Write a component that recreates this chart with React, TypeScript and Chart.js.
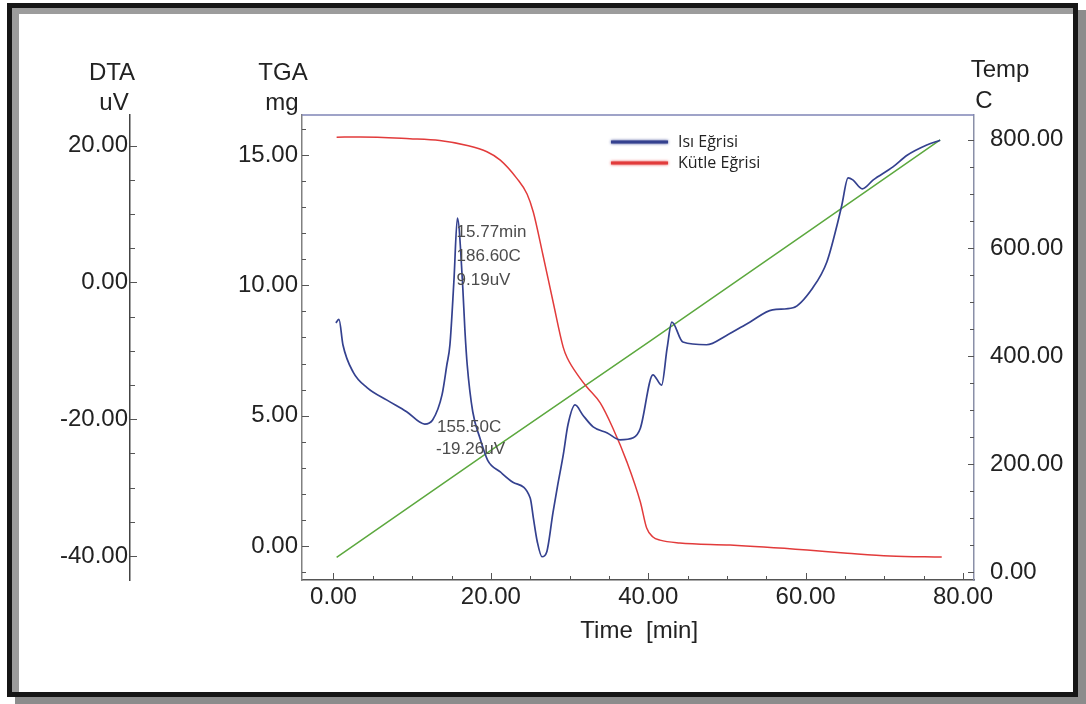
import React, { useEffect, useRef } from 'react';
import { Chart, registerables } from 'chart.js';

Chart.register(...registerables);

// ---- data ----
const dtaTime = [0.3, 0.7, 1.2, 2.5, 4.3, 6.8, 9.3, 11.6, 12.6, 13.8, 14.4, 14.8, 15.3, 15.75, 16.4, 16.7, 17.0, 17.7, 18.6, 19.6, 21.2, 22.8, 25.0, 25.4, 25.9, 26.5, 27.1, 27.9, 28.5, 29.2, 29.8, 30.7, 31.7, 33.0, 34.8, 36.4, 38.1, 39.0, 40.6, 41.7, 42.4, 43.0, 44.4, 47.4, 50.0, 52.9, 55.8, 58.4, 60.9, 62.7, 64.0, 64.6, 65.4, 66.0, 67.2, 68.6, 71.1, 72.9, 75.4, 77.1];
const dtaValues = [-5.9, -5.4, -9.1, -13.1, -15.4, -17.2, -18.9, -20.7, -20.1, -16.4, -12.1, -9.1, 0.1, 9.4, 0, -6.9, -12.1, -18.9, -22.7, -26.0, -27.7, -29.2, -31.5, -34.4, -37.9, -40.1, -39.4, -33.6, -29.6, -25.2, -20.8, -17.9, -19.4, -21.1, -22.0, -23.0, -22.7, -21.3, -13.5, -15.0, -9.6, -5.8, -8.7, -9.1, -7.7, -5.8, -4.0, -3.7, -0.8, 3.0, 8.4, 11.3, 15.3, 15.0, 13.7, 15.0, 16.9, 18.6, 20.1, 20.8];

const tgaTime = [0.4, 3.4, 9.7, 13.5, 17.0, 19.5, 21.2, 23.3, 24.6, 25.4, 26.6, 27.9, 29.2, 29.7, 31.3, 32.2, 33.9, 35.5, 37.3, 39.0, 39.8, 40.6, 41.5, 44.0, 50.4, 60.2, 65.3, 70.7, 77.3];
const tgaValues = [15.68, 15.69, 15.62, 15.55, 15.36, 15.12, 14.8, 14.1, 13.5, 12.8, 11.19, 9.38, 7.62, 7.22, 6.45, 6.1, 5.49, 4.53, 3.22, 1.69, 0.69, 0.35, 0.23, 0.12, 0.04, -0.15, -0.27, -0.38, -0.42];

const tempTime = [0.4, 20, 40, 60, 77.1];
const tempValues = [27, 225, 425, 627, 800];

const seriesNames = ['Isı Eğrisi', 'Kütle Eğrisi', 'Sıcaklık'];

// tick labels shown on each axis
const xTickLabels = [0, 20, 40, 60, 80];
const tgaTickLabels = [0, 5, 10, 15];
const dtaTickLabels = [-40, -20, 0, 20];
const tempTickLabels = [0, 200, 400, 600, 800];

const peakNotes = ['15.77min', '186.60C', '9.19uV'];
const minNotes = ['155.50C', '-19.26uV'];

// ---- styling ----
const FONT = "'Liberation Sans', Arial, Helvetica, sans-serif";
const BLUE = '#34418f';
const RED = '#e23b3b';
const GREEN = '#5ca83e';

const has = (arr: number[], v: number) => arr.some((a) => Math.abs(a - v) < 1e-6);
const fmt = (arr: number[]) => (v: any) => (has(arr, Number(v)) ? Number(v).toFixed(2) : '');

const pts = (xs: number[], ys: number[]) => xs.map((x, i) => ({ x, y: ys[i] }));

const decorPlugin = {
  id: 'decor',
  afterDraw(chart: any) {
    const { ctx, chartArea: ca, scales } = chart;
    const sx = scales.x;
    const sT = scales.yTGA;
    const sD = scales.yDTA;
    const sR = scales.yTemp;
    ctx.save();

    // top border of plot
    ctx.strokeStyle = '#7f84b6';
    ctx.lineWidth = 1.5;
    ctx.beginPath();
    ctx.moveTo(ca.left, ca.top);
    ctx.lineTo(ca.right, ca.top);
    ctx.stroke();

    const line = (x1: number, y1: number, x2: number, y2: number) => {
      ctx.beginPath();
      ctx.moveTo(x1, y1);
      ctx.lineTo(x2, y2);
      ctx.stroke();
    };
    ctx.strokeStyle = '#555';
    ctx.lineWidth = 1;
    sx.ticks.forEach((t: any) => {
      const p = Math.round(sx.getPixelForValue(t.value)) + 0.5;
      const L = has(xTickLabels, t.value) ? 7 : 4;
      line(p, ca.bottom, p, ca.bottom - L);
    });
    sT.ticks.forEach((t: any) => {
      const p = Math.round(sT.getPixelForValue(t.value)) + 0.5;
      const L = has(tgaTickLabels, t.value) ? 7 : 4;
      line(ca.left, p, ca.left + L, p);
    });
    sR.ticks.forEach((t: any) => {
      const p = Math.round(sR.getPixelForValue(t.value)) + 0.5;
      const L = has(tempTickLabels, t.value) ? 6 : 4;
      line(ca.right, p, ca.right - L, p);
    });
    const dx = sD.right;
    sD.ticks.forEach((t: any) => {
      const p = Math.round(sD.getPixelForValue(t.value)) + 0.5;
      const L = has(dtaTickLabels, t.value) ? 7 : 5;
      line(dx, p, dx + L, p);
    });

    // axis titles
    ctx.fillStyle = '#222';
    ctx.font = `24px ${FONT}`;
    ctx.textAlign = 'center';
    ctx.textBaseline = 'alphabetic';
    ctx.fillText('DTA', dx - 18, 80);
    ctx.fillText('uV', dx - 16, 110);
    ctx.fillText('TGA', ca.left - 19, 80);
    ctx.fillText('mg', ca.left - 20, 110);
    ctx.fillText('Temp', ca.right + 26, 77);
    ctx.fillText('C', ca.right + 10, 108);
    ctx.fillText('Time  [min]', (sx.getPixelForValue(0) + sx.getPixelForValue(80)) / 2 - 9, 638);

    // annotations
    ctx.fillStyle = '#4c4c4c';
    ctx.font = `17px ${FONT}`;
    ctx.textAlign = 'left';
    const px = sx.getPixelForValue(15.77) - 1;
    peakNotes.forEach((s, i) => ctx.fillText(s, px, 237 + i * 24));
    minNotes.forEach((s, i) => ctx.fillText(s, 437 - (i === 1 ? 1 : 0), 432 + i * 22));

    // legend
    const legend = [
      { label: chart.data.datasets[0].label, color: BLUE, y: 142 },
      { label: chart.data.datasets[1].label, color: RED, y: 163 },
    ];
    legend.forEach((it) => {
      ctx.save();
      ctx.strokeStyle = it.color;
      ctx.lineWidth = 3;
      ctx.shadowColor = it.color;
      ctx.shadowBlur = 3;
      line(611, it.y, 668, it.y);
      ctx.restore();
      ctx.fillStyle = '#222';
      ctx.font = `16px 'Open Sans', 'Noto Sans', sans-serif`;
      ctx.textAlign = 'left';
      ctx.textBaseline = 'middle';
      ctx.fillText(it.label, 678, it.y);
    });

    ctx.restore();
  },
};

const tickFont = { family: FONT, size: 24 };

export default function App() {
  const ref = useRef<HTMLCanvasElement>(null);
  useEffect(() => {
    const chart = new Chart(ref.current as HTMLCanvasElement, {
      type: 'line',
      data: {
        datasets: [
          {
            label: seriesNames[0],
            data: pts(dtaTime, dtaValues),
            yAxisID: 'yDTA',
            borderColor: BLUE,
            borderWidth: 1.7,
            pointRadius: 0,
            cubicInterpolationMode: 'monotone',
          },
          {
            label: seriesNames[1],
            data: pts(tgaTime, tgaValues),
            yAxisID: 'yTGA',
            borderColor: RED,
            borderWidth: 1.5,
            pointRadius: 0,
            cubicInterpolationMode: 'monotone',
          },
          {
            label: seriesNames[2],
            data: pts(tempTime, tempValues),
            yAxisID: 'yTemp',
            borderColor: GREEN,
            borderWidth: 1.5,
            pointRadius: 0,
          },
        ],
      } as any,
      options: {
        animation: false,
        responsive: false,
        maintainAspectRatio: false,
        layout: { padding: { left: 20, top: 115, right: 0, bottom: 74 } },
        plugins: { legend: { display: false }, tooltip: { enabled: false } },
        scales: {
          x: {
            type: 'linear',
            position: 'bottom',
            min: -4.0,
            max: 81.4,
            ticks: {
              stepSize: 5,
              includeBounds: false,
              autoSkip: false,
              maxRotation: 0,
              padding: 3,
              color: '#222',
              font: tickFont,
              callback: fmt(xTickLabels),
            },
            grid: { display: false, drawTicks: false },
            border: { display: true, color: '#555', width: 1.5 },
            afterFit: (s: any) => {
              s.height = 50;
            },
          },
          yTGA: {
            type: 'linear',
            position: 'left',
            weight: 0,
            min: -1.3,
            max: 16.53,
            ticks: {
              stepSize: 1,
              includeBounds: false,
              autoSkip: false,
              padding: 4,
              color: '#222',
              font: tickFont,
              callback: fmt(tgaTickLabels),
            },
            grid: { display: false, drawTicks: false },
            border: { display: true, color: '#808080', width: 1.5 },
            afterFit: (s: any) => {
              s.width = 172;
            },
          },
          yDTA: {
            type: 'linear',
            position: 'left',
            weight: 1,
            min: -43.5,
            max: 24.49,
            ticks: {
              stepSize: 5,
              includeBounds: false,
              autoSkip: false,
              padding: 2,
              color: '#222',
              font: tickFont,
              callback: fmt(dtaTickLabels),
            },
            grid: { display: false, drawTicks: false },
            border: { display: true, color: '#444', width: 1.5 },
            afterFit: (s: any) => {
              s.width = 110;
            },
          },
          yTemp: {
            type: 'linear',
            position: 'right',
            min: -14.8,
            max: 846,
            ticks: {
              stepSize: 50,
              includeBounds: false,
              autoSkip: false,
              padding: 16,
              color: '#222',
              font: tickFont,
              callback: fmt(tempTickLabels),
            },
            grid: { display: false, drawTicks: false },
            border: { display: true, color: '#8a8fa8', width: 1.5 },
            afterFit: (s: any) => {
              s.width = 112;
            },
          },
        },
      } as any,
      plugins: [decorPlugin],
    });
    return () => chart.destroy();
  }, []);

  return (
    <div style={{ position: 'absolute', left: 0, top: 0, width: 1086, height: 704, background: '#fff', overflow: 'hidden' }}>
      <div
        style={{
          position: 'absolute',
          left: 7,
          top: 3,
          width: 1071,
          height: 694,
          boxSizing: 'border-box',
          border: '5px solid #161616',
          boxShadow: '8px 7px 0 #8c8c8c, inset 7px 6px 0 #9c9c9c',
          background: '#fff',
        }}
      />
      <canvas
        ref={ref}
        width={1086}
        height={704}
        style={{ position: 'absolute', left: 0, top: 0, width: 1086, height: 704 }}
      />
    </div>
  );
}
